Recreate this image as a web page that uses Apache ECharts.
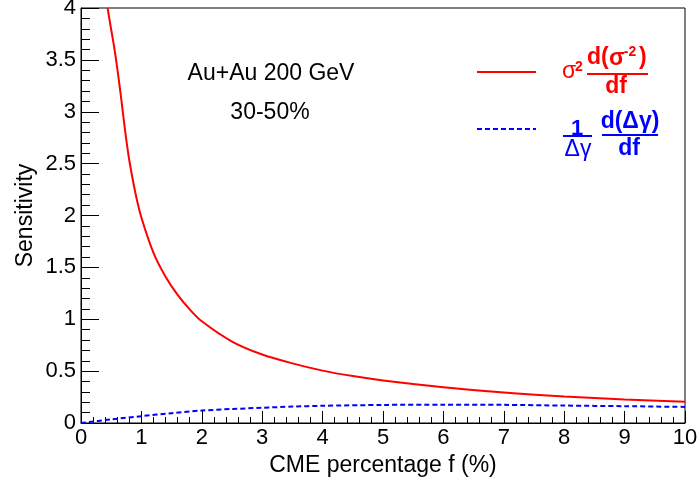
<!DOCTYPE html>
<html>
<head>
<meta charset="utf-8">
<script src="https://cdn.jsdelivr.net/npm/echarts@6/dist/echarts.min.js"></script>
<style>
  html, body { margin: 0; padding: 0; background: #fff; }
  #main { width: 699px; height: 478px; }
</style>
</head>
<body>
<div id="main"></div>
<script>
"use strict";

// red: sigma^2 d(sigma^-2)/df
var redF = [0.44, 0.5, 0.55, 0.6, 0.65, 0.7, 0.75, 0.8, 0.9, 1.0, 1.2, 1.4, 1.6, 1.8, 2.0, 2.5, 3.0, 3.5, 4.0, 4.5, 5, 6, 7, 8, 9, 10];
var redY = [4.0, 3.79, 3.62, 3.42, 3.2, 2.96, 2.73, 2.53, 2.22, 1.98, 1.64, 1.41, 1.235, 1.095, 0.98, 0.785, 0.66, 0.575, 0.505, 0.452, 0.41, 0.345, 0.293, 0.255, 0.227, 0.205];

// blue dashed: 1/dgamma d(dgamma)/df
var blueF = [0, 0.5, 1, 1.5, 2, 2.5, 3, 3.5, 4, 5, 6, 7, 8, 9, 10];
var blueY = [0.0, 0.035, 0.066, 0.095, 0.12, 0.135, 0.147, 0.158, 0.166, 0.174, 0.177, 0.175, 0.168, 0.162, 0.155];

var xTicks = { min: 0, max: 10, step: 1 };
var yTicks = { min: 0, max: 4, step: 0.5 };

var FONT = "Liberation Sans";

function pairs(xs, ys) {
  return xs.map(function (x, i) { return [x, ys[i]]; });
}

var chartDom = document.getElementById("main");
var myChart = echarts.init(chartDom);

function txt(text, x, y, color, size, align, bold) {
  return {
    type: "text",
    x: x,
    y: y,
    style: {
      text: text,
      fill: color,
      font: (bold ? "bold " : "") + size + "px '" + FONT + "'",
      align: align || "center",
      verticalAlign: "middle",
    },
  };
}

function seg(x1, y1, x2, y2, color, dash) {
  return {
    type: "line",
    shape: { x1: x1, y1: y1, x2: x2, y2: y2 },
    style: { stroke: color, lineWidth: 2, lineDash: dash || null },
  };
}

var red = "#ff0000";
var blue = "#0000ff";

var option = {
  backgroundColor: "#fff",
  animation: false,
  grid: {
    left: 81,
    right: 14,
    top: 8,
    bottom: 55,
    outerBoundsMode: "none",
    containLabel: false,
    show: true,
    borderColor: "#000",
    borderWidth: 1,
    backgroundColor: "#fff",
  },
  xAxis: {
    type: "value",
    min: xTicks.min,
    max: xTicks.max,
    interval: xTicks.step,
    name: "CME percentage f (%)",
    nameLocation: "middle",
    nameGap: 31,
    nameMoveOverlap: false,
    nameTextStyle: { fontFamily: FONT, fontSize: 23, color: "#000" },
    axisLine: { show: true, lineStyle: { color: "#000", width: 1 } },
    axisTick: { show: true, inside: true, length: 12, lineStyle: { color: "#000" } },
    minorTick: { show: true, splitNumber: 5, length: 6, lineStyle: { color: "#000" } },
    splitLine: { show: false },
    axisLabel: { margin: 4, fontFamily: FONT, fontSize: 22, color: "#000" },
  },
  yAxis: {
    type: "value",
    min: yTicks.min,
    max: yTicks.max,
    interval: yTicks.step,
    name: "Sensitivity",
    nameLocation: "middle",
    nameGap: 44,
    nameMoveOverlap: false,
    nameTextStyle: { fontFamily: FONT, fontSize: 23, color: "#000" },
    axisLine: { show: true, lineStyle: { color: "#000", width: 1 } },
    axisTick: { show: true, inside: true, length: 18, lineStyle: { color: "#000" } },
    minorTick: { show: true, splitNumber: 5, length: 9, lineStyle: { color: "#000" } },
    splitLine: { show: false },
    axisLabel: { margin: 5, fontFamily: FONT, fontSize: 22, color: "#000" },
  },
  series: [
    {
      type: "line",
      data: pairs(redF, redY),
      symbol: "none",
      smooth: 0.3,
      clip: true,
      lineStyle: { color: red, width: 2 },
    },
    {
      type: "line",
      data: pairs(blueF, blueY),
      symbol: "none",
      smooth: 0.3,
      clip: true,
      lineStyle: { color: blue, width: 2, type: [5, 3] },
    },
  ],
  graphic: [
    txt("Au+Au 200 GeV", 271, 74, "#000", 23),
    txt("30-50%", 270, 113, "#000", 23),

    // legend: red
    seg(477, 72, 536, 72, red),
    txt("σ", 569, 72, red, 23, "center", false),
    txt("2", 579, 67, red, 14, "center", true),
    txt("d(", 587, 58, red, 23, "left", true),
    txt("σ", 609, 59, red, 23, "left", true),
    txt("-2", 630, 52, red, 14, "center", true),
    txt(")", 639, 58, red, 23, "left", true),
    seg(587, 74, 648, 74, red),
    txt("df", 616, 87, red, 23, "center", true),

    // legend: blue
    seg(477, 129, 536, 129, blue, [5, 3]),
    txt("1", 577, 129, blue, 22, "center", true),
    seg(563, 136, 592, 136, blue),
    txt("Δγ", 578, 150, blue, 23, "center", false),
    txt("d(Δγ)", 630, 122, blue, 23, "center", true),
    seg(602, 135, 658, 135, blue),
    txt("df", 629, 149, blue, 23, "center", true),
  ],
};

option && myChart.setOption(option);
</script>
</body>
</html>
